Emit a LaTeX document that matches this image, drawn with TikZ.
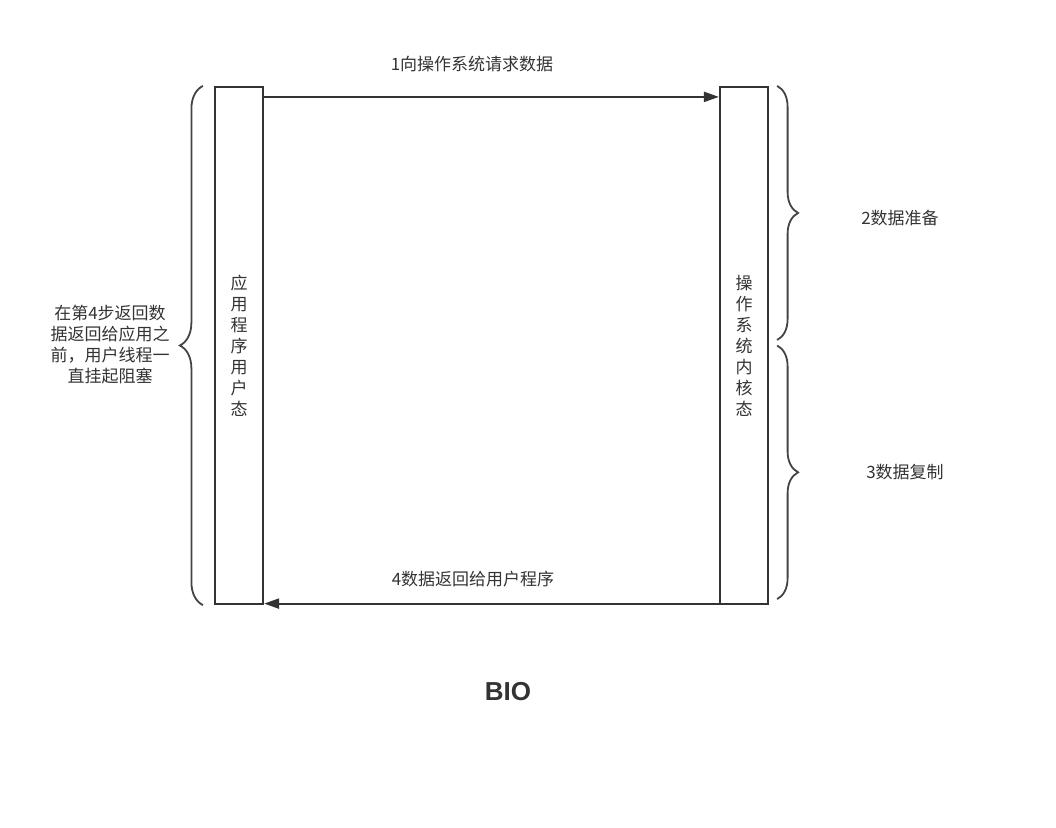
\documentclass[tikz,border=0pt]{standalone}
\usepackage{fontspec}
\setmainfont{Noto Sans CJK SC}
\newfontfamily\titlefont{Liberation Sans}
\usetikzlibrary{arrows.meta,positioning,decorations.pathreplacing}
\definecolor{ink}{HTML}{333333}
\definecolor{bracegray}{HTML}{444444}

\begin{document}
\begin{tikzpicture}[
  x=1pt, y=-1pt,
  font=\fontsize{17}{21}\selectfont,
  text=ink,
  lane/.style={draw=ink, line width=2.2pt, fill=white, align=center,
    minimum width=48pt, minimum height=517pt, inner sep=0pt},
  msg/.style={align=center, inner sep=1pt},
  flow/.style={-{Triangle[length=15pt,width=10pt]}, draw=ink, line width=2pt},
  bracket/.style={draw=bracegray, line width=1.8pt,
    decorate, decoration={brace, amplitude=#1}},
  bracket/.default=21pt
]
\useasboundingbox (0,0) rectangle (1056,827);

\node[lane] (user) at (239,345.5) {应\\用\\程\\序\\用\\户\\态};
\node[lane] (kernel) at (744,345.5) {操\\作\\系\\统\\内\\核\\态};

\draw[flow] ([yshift=-11pt]user.north east) -- ([yshift=-11pt]kernel.north west);
\draw[flow] ([yshift=1.5pt]kernel.south west) -- ([yshift=1.5pt]user.south east);

\node[msg] (request) at (472,64) {1向操作系统请求数据};
\node[msg] (reply) at (473,579) {4数据返回给用户程序};

% braces beside the two boxes
\draw[bracket=23pt] ([xshift=-11pt]user.south west) -- ([xshift=-11pt]user.north west);
\draw[bracket] ([xshift=8pt]kernel.north east) -- ([xshift=8pt,yshift=5.5pt]kernel.east);
\draw[bracket] ([xshift=8pt]kernel.east) -- ([xshift=8pt,yshift=6pt]kernel.south east);

\node[msg] (waitnote) at (110,345) {在第4步返回数\\据返回给应用之\\前，用户线程一\\直挂起阻塞};
\node[msg] (prepare) at (900,218) {2数据准备};
\node[msg] (copy) at (905,472) {3数据复制};

\node[msg, font=\titlefont\bfseries\fontsize{26}{30}\selectfont] (title) at (508,692) {BIO};

\end{tikzpicture}
\end{document}
